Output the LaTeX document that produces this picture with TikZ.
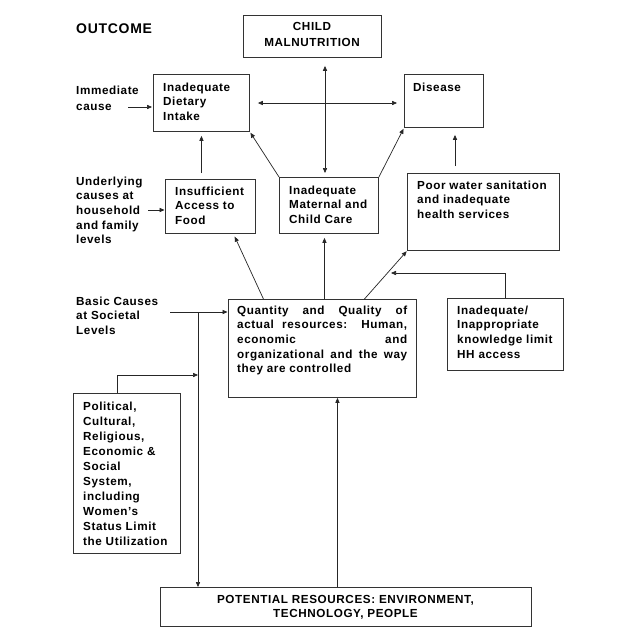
\documentclass[tikz,border=0pt]{standalone}
\usepackage{fontspec}
\setmainfont{Liberation Sans}[LetterSpace=5]
\usetikzlibrary{arrows.meta,calc}
\newcommand\bodyf{\fontsize{11.7}{14.7}\selectfont\bfseries}
\newcommand\headf{\fontsize{14}{16}\selectfont\bfseries}
\tikzset{
  box/.style={draw=black!80, line width=0.9pt, inner sep=0pt, rectangle, anchor=north west},
  txt/.style={inner sep=0pt, font=\bodyf, anchor=base west, text=black},
  ctxt/.style={inner sep=0pt, font=\bodyf, anchor=base, text=black},
  arr/.style={draw=black!85, line width=0.7pt, -{Triangle[length=5pt,width=4.2pt]}},
  darr/.style={draw=black!85, line width=0.7pt, {Triangle[length=5pt,width=4.2pt]}-{Triangle[length=5pt,width=4.2pt]}},
}
\begin{document}
\begin{tikzpicture}[x=1pt,y=-1pt]
\useasboundingbox[fill=white] (0,0) rectangle (626,641);

% boxes
\node[box, minimum width=138, minimum height=42] (child) at (243,15) {};
\node[box, minimum width=96,  minimum height=57] (diet)  at (153,74) {};
\node[box, minimum width=79,  minimum height=53] (dis)   at (404,74) {};
\node[box, minimum width=90,  minimum height=54] (ins)   at (165,179) {};
\node[box, minimum width=99,  minimum height=56] (mat)   at (279,177) {};
\node[box, minimum width=152, minimum height=77] (water) at (407,173) {};
\node[box, minimum width=188, minimum height=98] (q)     at (228,299) {};
\node[box, minimum width=116, minimum height=72] (know)  at (447,298) {};
\node[box, minimum width=107, minimum height=160] (pol)  at (73,393) {};
\node[box, minimum width=371, minimum height=39] (pot)   at (160,587) {};

% texts
\node[txt, font=\headf] (outT) at (76,33) {OUTCOME};
\node[ctxt] (childT) at (312,30) {\parbox[t]{138pt}{\centering\fontsize{11.7}{16}\selectfont CHILD\\MALNUTRITION}};
\node[txt] (dietT) at (163,91) {\parbox[t]{90pt}{\raggedright Inadequate\\Dietary\\Intake}};
\node[txt] (disT) at (413,91) {Disease};
\node[txt] (immT) at (76,94) {\parbox[t]{80pt}{\raggedright\fontsize{11.7}{16}\selectfont Immediate\\cause}};
\node[txt] (undT) at (76,185) {\parbox[t]{80pt}{\raggedright Underlying\\causes at\\household\\and family\\levels}};
\node[txt] (insT) at (175,195) {\parbox[t]{85pt}{\raggedright Insufficient\\Access to\\Food}};
\node[txt] (matT) at (289,194) {\parbox[t]{90pt}{\raggedright Inadequate\\Maternal and\\Child Care}};
\node[txt] (waterT) at (417,189) {\parbox[t]{140pt}{\raggedright Poor water sanitation\\and inadequate\\health services}};
\node[txt] (qT) at (237,314) {\parbox[t]{170pt}{%
  \makebox[170pt][s]{Quantity and Quality of}\\
  \makebox[170pt][s]{actual resources: Human,}\\
  \makebox[170pt][s]{economic\hfill and}\\
  \makebox[170pt][s]{organizational and the way}\\
  they are controlled}};
\node[txt] (knowT) at (457,314) {\parbox[t]{110pt}{\raggedright Inadequate/\\Inappropriate\\knowledge limit\\HH access}};
\node[txt] (basicT) at (76,305) {\parbox[t]{90pt}{\raggedright Basic Causes\\at Societal\\Levels}};
\node[txt] (polT) at (83,410) {\parbox[t]{100pt}{\raggedright\fontsize{11.7}{15.1}\selectfont Political,\\Cultural,\\Religious,\\Economic \&\\Social\\System,\\including\\Women’s\\Status Limit\\the Utilization}};
\node[ctxt] (potT) at (345.5,603) {\parbox[t]{371pt}{\centering POTENTIAL RESOURCES: ENVIRONMENT,\\TECHNOLOGY, PEOPLE}};

% free ends
\coordinate (immS) at (128,107);
\coordinate (undS) at (148,210);
\coordinate (hy) at (0,103);
\coordinate (vx) at (325,0);
\coordinate (wx) at (455,0);
\coordinate (kd) at (391,273);
\coordinate (bs) at (170,312);
\coordinate (vj) at (198,312);
\coordinate (pj) at (198,375);

% connectors
\draw[arr, shorten >=1pt] (immS) -- (immS -| diet.west);
\draw[arr, shorten >=0.5pt] (undS) -- (undS -| ins.west);
\draw[darr, shorten <=8pt, shorten >=7pt] (diet.east |- hy) -- (dis.west |- hy);
\draw[darr, shorten <=8pt, shorten >=4pt] (child.south -| vx) -- (mat.north -| vx);
\draw[arr, shorten <=6pt, shorten >=4pt] (diet.south |- ins.north) -- (diet.south);
\draw[arr, shorten >=1pt] (mat.north west) -- (diet.south east);
\draw[arr, shorten >=1pt] (mat.north east) -- (dis.south west);
\draw[arr, shorten <=7pt, shorten >=7pt] (water.north -| wx) -- (dis.south -| wx);
\draw[arr, shorten >=3pt] ([xshift=-59pt]q.north) -- ([xshift=23pt]ins.south);
\draw[arr, shorten >=4pt] ([xshift=2pt]q.north) -- ([xshift=-4.5pt]mat.south);
\draw[arr, shorten >=0.5pt] ([xshift=42pt]q.north) -- (water.south west);
\draw[arr] (know.north) |- (kd);
\draw[arr, shorten >=0.5pt] (bs) -- (bs -| q.west);
\draw[arr] (vj) -- (vj |- pot.north);
\draw[arr] ([xshift=-9.5pt]pol.north) |- (pj);
\draw[arr] ([xshift=-8.5pt]pot.north) -- ([xshift=-8.5pt]pot.north |- q.south);
\end{tikzpicture}
\end{document}
